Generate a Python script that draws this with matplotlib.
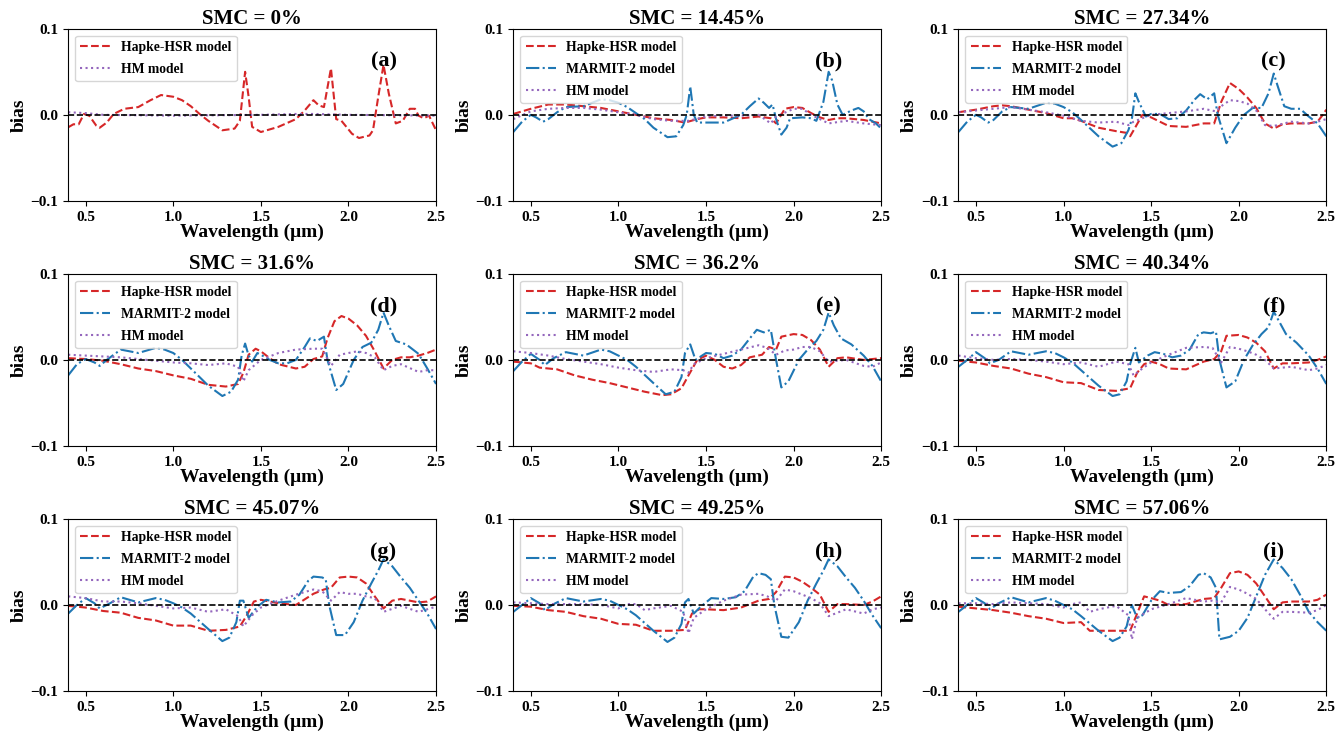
import matplotlib
matplotlib.use("Agg")
import matplotlib.pyplot as plt

plt.rcParams['font.family'] = ['Liberation Serif', 'DejaVu Serif']
plt.rcParams['font.weight'] = 'bold'
plt.rcParams['axes.labelweight'] = 'bold'
plt.rcParams['axes.titleweight'] = 'bold'

# panel titles and tags
titles = ['SMC = 0%', 'SMC = 14.45%', 'SMC = 27.34%',
          'SMC = 31.6%', 'SMC = 36.2%', 'SMC = 40.34%',
          'SMC = 45.07%', 'SMC = 49.25%', 'SMC = 57.06%']
tags = ['(a)', '(b)', '(c)', '(d)', '(e)', '(f)', '(g)', '(h)', '(i)']

# bias curves, (wavelength um, bias)
hsr_a = [(0.4, -0.0145), (0.43, -0.011), (0.46, -0.011), (0.49, 0.001), (0.52, -0.001), (0.56, -0.0125),
         (0.58, -0.015), (0.62, -0.009), (0.66, 0.001), (0.72, 0.007), (0.8, 0.009), (0.87, 0.017),
         (0.93, 0.023), (1.0, 0.021), (1.05, 0.017), (1.1, 0.010), (1.15, 0.001), (1.2, -0.007),
         (1.28, -0.018), (1.35, -0.016), (1.38, -0.007), (1.41, 0.050), (1.43, 0.021), (1.45, -0.014),
         (1.5, -0.020), (1.6, -0.014), (1.7, -0.005), (1.75, 0.005), (1.8, 0.017), (1.83, 0.011),
         (1.86, 0.009), (1.9, 0.054), (1.93, -0.005), (1.96, -0.007), (2.02, -0.022), (2.06, -0.027),
         (2.12, -0.024), (2.14, -0.018), (2.17, 0.021), (2.2, 0.058), (2.23, 0.025), (2.27, -0.010),
         (2.31, -0.007), (2.35, 0.007), (2.38, 0.007), (2.4, -0.001), (2.43, -0.004), (2.46, -0.001),
         (2.5, -0.018)]
hm_a = [(0.4, 0.003), (0.5, 0.002), (0.6, 0.0), (1.0, -0.001), (1.5, 0.0), (1.7, 0.001), (1.8, 0.001),
        (2.0, 0.0), (2.5, -0.001)]

hsr_b = [(0.4, 0.001), (0.5, 0.007), (0.6, 0.012), (0.7, 0.012), (0.8, 0.010), (0.9, 0.008), (1.0, 0.004),
         (1.1, 0.0), (1.2, -0.004), (1.3, -0.006), (1.38, -0.009), (1.45, -0.005), (1.5, -0.003),
         (1.6, -0.003), (1.7, -0.004), (1.8, -0.002), (1.87, -0.004), (1.9, -0.010), (1.95, 0.007),
         (2.0, 0.009), (2.05, 0.008), (2.1, 0.002), (2.15, -0.003), (2.2, -0.006), (2.25, -0.004),
         (2.3, -0.004), (2.4, -0.006), (2.45, -0.008), (2.5, -0.010)]
mar_b = [(0.4, -0.020), (0.45, -0.008), (0.5, 0.0), (0.53, -0.003), (0.57, -0.008), (0.6, -0.005),
         (0.65, 0.003), (0.7, 0.009), (0.8, 0.010), (0.9, 0.018), (0.95, 0.017), (1.0, 0.014),
         (1.05, 0.009), (1.1, 0.002), (1.15, -0.005), (1.2, -0.015), (1.28, -0.026), (1.33, -0.025),
         (1.37, -0.012), (1.39, 0.0), (1.41, 0.033), (1.43, 0.0), (1.45, -0.009), (1.5, -0.009),
         (1.6, -0.009), (1.7, 0.0), (1.75, 0.010), (1.8, 0.019), (1.83, 0.014), (1.86, 0.008),
         (1.88, 0.012), (1.9, -0.005), (1.93, -0.023), (1.96, -0.015), (1.98, -0.004), (2.05, -0.003),
         (2.1, -0.004), (2.13, -0.007), (2.17, 0.015), (2.2, 0.050), (2.22, 0.040), (2.25, 0.012),
         (2.28, 0.0), (2.33, 0.005), (2.37, 0.008), (2.4, 0.004), (2.43, -0.005), (2.47, -0.010),
         (2.5, -0.016)]
hm_b = [(0.4, -0.005), (0.5, 0.004), (0.6, 0.007), (0.7, 0.008), (0.8, 0.008), (0.9, 0.006), (1.0, 0.003),
        (1.1, 0.0), (1.2, -0.005), (1.3, -0.007), (1.4, -0.007), (1.5, -0.002), (1.6, -0.001),
        (1.7, -0.001), (1.8, 0.0), (1.87, -0.010), (1.9, -0.002), (2.0, 0.007), (2.05, 0.007),
        (2.1, 0.0), (2.2, -0.010), (2.3, -0.007), (2.4, -0.010), (2.5, -0.012)]

hsr_c = [(0.4, 0.003), (0.5, 0.006), (0.6, 0.010), (0.65, 0.011), (0.7, 0.010), (0.8, 0.006), (0.9, 0.002),
         (1.0, -0.004), (1.05, -0.004), (1.1, -0.007), (1.2, -0.015), (1.3, -0.019), (1.36, -0.021),
         (1.38, -0.025), (1.4, -0.018), (1.45, 0.0), (1.5, -0.003), (1.6, -0.013), (1.7, -0.014),
         (1.8, -0.010), (1.86, -0.010), (1.9, 0.015), (1.95, 0.037), (2.0, 0.030), (2.05, 0.020),
         (2.1, 0.008), (2.15, -0.010), (2.2, -0.016), (2.25, -0.011), (2.3, -0.010), (2.4, -0.010),
         (2.45, -0.008), (2.48, 0.0), (2.5, 0.006)]
mar_c = [(0.4, -0.020), (0.45, -0.008), (0.5, 0.0), (0.53, -0.003), (0.57, -0.009), (0.6, -0.006),
         (0.65, 0.004), (0.7, 0.009), (0.8, 0.007), (0.9, 0.014), (0.95, 0.013), (1.0, 0.009),
         (1.05, 0.003), (1.1, -0.006), (1.2, -0.025), (1.28, -0.037), (1.33, -0.033), (1.37, -0.018),
         (1.39, -0.005), (1.41, 0.025), (1.43, 0.015), (1.47, -0.002), (1.5, 0.001), (1.55, 0.001),
         (1.6, -0.005), (1.65, -0.004), (1.7, 0.005), (1.75, 0.018), (1.78, 0.024), (1.82, 0.018),
         (1.86, 0.025), (1.88, 0.0), (1.93, -0.033), (1.98, -0.015), (2.03, 0.0), (2.08, 0.008),
         (2.13, 0.008), (2.17, 0.025), (2.2, 0.048), (2.22, 0.035), (2.26, 0.010), (2.3, 0.007),
         (2.35, 0.007), (2.4, -0.002), (2.45, -0.010), (2.5, -0.025)]
hm_c = [(0.4, 0.003), (0.5, 0.005), (0.6, 0.007), (0.7, 0.009), (0.8, 0.006), (0.9, 0.003), (1.0, -0.001),
        (1.1, -0.007), (1.2, -0.009), (1.3, -0.008), (1.37, -0.012), (1.4, -0.008), (1.5, 0.0),
        (1.6, 0.002), (1.7, 0.004), (1.8, 0.007), (1.87, 0.004), (1.9, 0.010), (1.95, 0.017),
        (2.0, 0.016), (2.05, 0.013), (2.1, 0.005), (2.15, -0.012), (2.2, -0.013), (2.3, -0.008),
        (2.4, -0.010), (2.45, -0.008), (2.5, -0.005)]

hsr_d = [(0.4, 0.002), (0.5, 0.001), (0.6, -0.001), (0.7, -0.005), (0.8, -0.010), (0.9, -0.013),
         (1.0, -0.018), (1.1, -0.022), (1.2, -0.029), (1.3, -0.031), (1.37, -0.028), (1.4, -0.015),
         (1.43, 0.006), (1.47, 0.013), (1.5, 0.010), (1.55, 0.002), (1.6, -0.005), (1.7, -0.010),
         (1.75, -0.008), (1.8, 0.001), (1.85, 0.004), (1.88, 0.025), (1.92, 0.045), (1.96, 0.051),
         (2.0, 0.048), (2.05, 0.040), (2.1, 0.028), (2.15, 0.010), (2.2, -0.010), (2.25, 0.0),
         (2.3, 0.003), (2.35, 0.003), (2.4, 0.005), (2.45, 0.008), (2.5, 0.012)]
mar_d = [(0.4, -0.018), (0.45, -0.005), (0.5, 0.001), (0.55, -0.003), (0.58, -0.007), (0.62, 0.0),
         (0.7, 0.012), (0.8, 0.008), (0.9, 0.014), (0.95, 0.012), (1.0, 0.008), (1.05, 0.0),
         (1.1, -0.010), (1.2, -0.030), (1.28, -0.042), (1.33, -0.037), (1.37, -0.023), (1.39, 0.005),
         (1.41, 0.019), (1.43, 0.005), (1.45, -0.002), (1.48, 0.008), (1.5, 0.006), (1.55, 0.0),
         (1.6, -0.004), (1.65, -0.004), (1.7, 0.0), (1.75, 0.015), (1.78, 0.025), (1.82, 0.022),
         (1.86, 0.027), (1.88, 0.0), (1.93, -0.035), (1.97, -0.028), (2.03, 0.0), (2.08, 0.015),
         (2.13, 0.020), (2.17, 0.035), (2.2, 0.055), (2.23, 0.040), (2.27, 0.022), (2.33, 0.018),
         (2.4, 0.007), (2.45, -0.010), (2.5, -0.028)]
hm_d = [(0.4, 0.006), (0.5, 0.005), (0.6, 0.004), (0.7, 0.003), (0.8, 0.001), (0.9, -0.001), (1.0, -0.003),
        (1.1, -0.004), (1.2, -0.006), (1.3, -0.004), (1.37, -0.008), (1.4, -0.025), (1.43, -0.012),
        (1.5, 0.0), (1.6, 0.008), (1.7, 0.012), (1.8, 0.013), (1.85, 0.013), (1.9, -0.007),
        (1.95, 0.006), (2.0, 0.008), (2.05, 0.010), (2.1, 0.008), (2.15, 0.003), (2.2, -0.012),
        (2.25, -0.007), (2.3, -0.005), (2.4, -0.014), (2.45, -0.012), (2.5, -0.012)]

hsr_e = [(0.4, -0.002), (0.5, -0.004), (0.55, -0.009), (0.65, -0.011), (0.75, -0.018), (0.85, -0.023),
         (0.95, -0.027), (1.05, -0.032), (1.15, -0.037), (1.25, -0.041), (1.3, -0.040), (1.36, -0.033),
         (1.4, -0.018), (1.45, 0.0), (1.5, 0.005), (1.55, 0.0), (1.6, -0.008), (1.65, -0.010),
         (1.7, -0.006), (1.75, 0.003), (1.82, 0.006), (1.86, 0.015), (1.9, 0.012), (1.93, 0.027),
         (2.0, 0.030), (2.05, 0.029), (2.1, 0.023), (2.15, 0.012), (2.2, -0.008), (2.25, 0.002),
         (2.3, 0.003), (2.4, 0.0), (2.45, 0.001), (2.5, 0.002)]
mar_e = [(0.4, -0.013), (0.45, -0.002), (0.5, 0.007), (0.55, 0.0), (0.58, -0.006), (0.63, 0.002),
         (0.7, 0.009), (0.8, 0.005), (0.9, 0.012), (0.95, 0.010), (1.0, 0.005), (1.05, 0.0),
         (1.1, -0.008), (1.2, -0.027), (1.27, -0.040), (1.32, -0.037), (1.36, -0.020), (1.38, 0.008),
         (1.41, 0.018), (1.44, 0.0), (1.5, 0.008), (1.55, 0.007), (1.6, 0.002), (1.65, 0.005),
         (1.7, 0.012), (1.75, 0.025), (1.79, 0.035), (1.83, 0.032), (1.87, 0.035), (1.9, 0.0),
         (1.93, -0.032), (1.97, -0.025), (2.03, 0.0), (2.08, 0.012), (2.13, 0.022), (2.17, 0.035),
         (2.2, 0.055), (2.23, 0.040), (2.27, 0.025), (2.33, 0.018), (2.4, 0.005), (2.45, -0.007),
         (2.5, -0.025)]
hm_e = [(0.4, 0.010), (0.5, 0.008), (0.6, 0.005), (0.7, 0.001), (0.8, -0.002), (0.9, -0.005), (1.0, -0.009),
        (1.1, -0.012), (1.2, -0.014), (1.3, -0.011), (1.37, -0.012), (1.4, -0.015), (1.43, -0.005),
        (1.5, 0.002), (1.6, 0.007), (1.7, 0.012), (1.8, 0.017), (1.85, 0.014), (1.9, 0.006),
        (1.95, 0.011), (2.0, 0.012), (2.05, 0.015), (2.1, 0.015), (2.15, 0.010), (2.2, -0.002),
        (2.3, 0.0), (2.4, -0.007), (2.45, -0.008), (2.5, -0.003)]

hsr_f = [(0.4, -0.001), (0.5, -0.003), (0.6, -0.007), (0.7, -0.010), (0.8, -0.016), (0.9, -0.020),
         (1.0, -0.026), (1.1, -0.027), (1.2, -0.035), (1.3, -0.036), (1.38, -0.033), (1.42, -0.015),
         (1.46, -0.005), (1.5, -0.002), (1.55, -0.005), (1.6, -0.010), (1.7, -0.011), (1.8, -0.002),
         (1.86, 0.001), (1.9, 0.010), (1.93, 0.028), (2.0, 0.029), (2.05, 0.026), (2.1, 0.020),
         (2.15, 0.010), (2.2, -0.010), (2.25, -0.004), (2.3, -0.004), (2.4, -0.003), (2.45, 0.0),
         (2.5, 0.004)]
mar_f = [(0.4, -0.008), (0.45, 0.0), (0.5, 0.009), (0.55, 0.002), (0.58, -0.004), (0.63, 0.0),
         (0.7, 0.010), (0.8, 0.006), (0.9, 0.010), (0.95, 0.008), (1.0, 0.003), (1.05, -0.003),
         (1.1, -0.012), (1.2, -0.030), (1.28, -0.042), (1.32, -0.040), (1.36, -0.025), (1.38, -0.005),
         (1.41, 0.014), (1.43, -0.003), (1.48, 0.005), (1.52, 0.009), (1.57, 0.007), (1.62, 0.003),
         (1.67, 0.005), (1.72, 0.012), (1.77, 0.030), (1.8, 0.032), (1.84, 0.031), (1.87, 0.033),
         (1.89, 0.0), (1.93, -0.032), (1.98, -0.025), (2.03, 0.0), (2.08, 0.017), (2.13, 0.030),
         (2.17, 0.038), (2.2, 0.056), (2.23, 0.045), (2.27, 0.030), (2.33, 0.020), (2.4, 0.005),
         (2.45, -0.010), (2.5, -0.028)]
hm_f = [(0.4, 0.005), (0.5, 0.002), (0.6, 0.0), (0.7, 0.001), (0.8, 0.0), (0.9, -0.002), (1.0, -0.005),
        (1.1, -0.003), (1.2, -0.008), (1.3, -0.002), (1.37, -0.005), (1.4, -0.018), (1.45, -0.010),
        (1.5, -0.003), (1.6, 0.006), (1.7, 0.014), (1.8, 0.015), (1.85, 0.014), (1.9, -0.003),
        (1.95, 0.015), (2.0, 0.013), (2.05, 0.010), (2.1, 0.006), (2.15, 0.0), (2.2, -0.010),
        (2.3, -0.008), (2.4, -0.012), (2.45, -0.010), (2.5, -0.006)]

hsr_g = [(0.4, -0.001), (0.5, -0.003), (0.6, -0.007), (0.7, -0.009), (0.8, -0.015), (0.9, -0.018),
         (1.0, -0.024), (1.1, -0.024), (1.2, -0.030), (1.3, -0.029), (1.38, -0.025), (1.42, -0.012),
         (1.46, 0.004), (1.5, 0.006), (1.55, 0.004), (1.6, 0.002), (1.7, 0.0), (1.8, 0.013),
         (1.86, 0.018), (1.9, 0.020), (1.95, 0.032), (2.0, 0.033), (2.05, 0.032), (2.1, 0.025),
         (2.15, 0.010), (2.2, -0.004), (2.25, 0.005), (2.3, 0.007), (2.4, 0.003), (2.45, 0.004),
         (2.5, 0.010)]
mar_g = [(0.4, -0.010), (0.45, 0.0), (0.5, 0.008), (0.55, 0.002), (0.58, -0.004), (0.63, 0.001),
         (0.7, 0.009), (0.8, 0.003), (0.9, 0.008), (0.95, 0.006), (1.0, 0.002), (1.05, -0.003),
         (1.1, -0.010), (1.2, -0.028), (1.28, -0.042), (1.32, -0.038), (1.36, -0.020), (1.38, 0.005),
         (1.4, 0.005), (1.43, -0.015), (1.48, -0.002), (1.53, 0.006), (1.6, 0.003), (1.67, 0.004),
         (1.72, 0.012), (1.77, 0.028), (1.8, 0.033), (1.85, 0.032), (1.87, 0.030), (1.89, 0.0),
         (1.93, -0.035), (1.98, -0.035), (2.03, -0.020), (2.08, 0.005), (2.13, 0.025), (2.17, 0.040),
         (2.2, 0.053), (2.25, 0.045), (2.3, 0.032), (2.35, 0.020), (2.4, 0.005), (2.45, -0.010),
         (2.5, -0.028)]
hm_g = [(0.4, 0.010), (0.5, 0.008), (0.6, 0.004), (0.7, 0.004), (0.8, 0.002), (0.9, -0.001), (1.0, -0.004),
        (1.1, -0.003), (1.2, -0.008), (1.3, -0.005), (1.37, -0.013), (1.4, -0.025), (1.45, -0.012),
        (1.5, -0.003), (1.6, 0.005), (1.7, 0.012), (1.8, 0.018), (1.85, 0.016), (1.9, 0.005),
        (1.95, 0.015), (2.0, 0.013), (2.05, 0.013), (2.1, 0.010), (2.15, 0.008), (2.2, -0.008),
        (2.3, -0.001), (2.4, -0.008), (2.45, -0.005), (2.5, -0.002)]

hsr_h = [(0.4, -0.001), (0.5, -0.002), (0.6, -0.006), (0.7, -0.008), (0.8, -0.013), (0.9, -0.016),
         (1.0, -0.022), (1.1, -0.023), (1.2, -0.030), (1.3, -0.030), (1.38, -0.029), (1.42, -0.010),
         (1.46, -0.005), (1.5, -0.005), (1.6, -0.006), (1.7, -0.003), (1.8, 0.005), (1.86, 0.007),
         (1.9, 0.015), (1.95, 0.033), (2.0, 0.032), (2.05, 0.027), (2.1, 0.020), (2.15, 0.012),
         (2.2, -0.008), (2.25, 0.001), (2.3, 0.001), (2.4, 0.0), (2.45, 0.004), (2.5, 0.010)]
mar_h = [(0.4, -0.008), (0.45, 0.0), (0.5, 0.008), (0.55, 0.002), (0.58, -0.006), (0.63, 0.001),
         (0.7, 0.008), (0.8, 0.004), (0.9, 0.007), (0.95, 0.005), (1.0, 0.0), (1.05, -0.005),
         (1.1, -0.012), (1.2, -0.030), (1.28, -0.043), (1.32, -0.038), (1.36, -0.022), (1.38, 0.003),
         (1.4, 0.007), (1.43, -0.010), (1.47, -0.002), (1.53, 0.008), (1.6, 0.007), (1.67, 0.009),
         (1.72, 0.016), (1.77, 0.033), (1.8, 0.037), (1.84, 0.035), (1.87, 0.030), (1.89, 0.0),
         (1.93, -0.037), (1.97, -0.038), (2.03, -0.020), (2.08, 0.005), (2.13, 0.025), (2.17, 0.040),
         (2.2, 0.053), (2.25, 0.045), (2.3, 0.032), (2.35, 0.020), (2.4, 0.005), (2.45, -0.012),
         (2.5, -0.027)]
hm_h = [(0.4, 0.003), (0.5, 0.002), (0.6, 0.001), (0.7, 0.001), (0.8, 0.001), (0.9, 0.0), (1.0, -0.004),
        (1.05, 0.001), (1.1, 0.001), (1.15, -0.006), (1.2, -0.004), (1.3, -0.001), (1.37, -0.008),
        (1.4, -0.033), (1.43, -0.015), (1.5, -0.005), (1.6, 0.005), (1.7, 0.012), (1.8, 0.013),
        (1.85, 0.010), (1.9, 0.005), (1.95, 0.018), (2.0, 0.016), (2.05, 0.012), (2.1, 0.008),
        (2.15, 0.002), (2.2, -0.013), (2.3, -0.005), (2.4, -0.010), (2.45, -0.005), (2.5, -0.003)]

hsr_i = [(0.4, -0.002), (0.5, -0.004), (0.6, -0.006), (0.7, -0.009), (0.8, -0.013), (0.9, -0.016),
         (1.0, -0.021), (1.1, -0.020), (1.15, -0.030), (1.3, -0.030), (1.38, -0.030), (1.42, -0.010),
         (1.46, 0.010), (1.5, 0.008), (1.55, 0.005), (1.6, 0.0), (1.7, 0.001), (1.8, 0.007),
         (1.86, 0.008), (1.9, 0.020), (1.95, 0.037), (2.0, 0.039), (2.05, 0.035), (2.1, 0.025),
         (2.15, 0.010), (2.2, -0.005), (2.25, 0.003), (2.3, 0.004), (2.4, 0.004), (2.45, 0.006),
         (2.5, 0.012)]
mar_i = [(0.4, -0.008), (0.45, 0.0), (0.5, 0.008), (0.55, 0.002), (0.58, -0.005), (0.63, 0.002),
         (0.7, 0.009), (0.8, 0.003), (0.9, 0.008), (0.95, 0.005), (1.0, 0.0), (1.05, -0.005),
         (1.1, -0.013), (1.2, -0.030), (1.28, -0.042), (1.32, -0.038), (1.36, -0.025), (1.39, 0.0),
         (1.42, -0.015), (1.45, -0.012), (1.5, 0.005), (1.55, 0.016), (1.6, 0.014), (1.67, 0.015),
         (1.72, 0.022), (1.77, 0.035), (1.8, 0.037), (1.84, 0.032), (1.87, 0.020), (1.89, -0.040),
         (1.95, -0.037), (2.0, -0.030), (2.05, -0.015), (2.1, 0.010), (2.15, 0.035), (2.2, 0.053),
         (2.25, 0.043), (2.3, 0.030), (2.35, 0.012), (2.4, -0.008), (2.45, -0.020), (2.5, -0.030)]
hm_i = [(0.4, 0.002), (0.5, 0.002), (0.6, 0.001), (0.7, 0.003), (0.8, 0.002), (0.9, 0.001), (1.0, -0.003),
        (1.05, 0.001), (1.1, 0.003), (1.15, -0.008), (1.2, -0.005), (1.3, -0.001), (1.37, -0.012),
        (1.39, -0.040), (1.42, -0.015), (1.5, -0.005), (1.6, 0.001), (1.7, 0.008), (1.8, 0.004),
        (1.85, 0.005), (1.9, 0.003), (1.95, 0.021), (2.0, 0.018), (2.05, 0.013), (2.1, 0.007),
        (2.15, -0.005), (2.2, -0.016), (2.25, -0.008), (2.3, -0.008), (2.4, -0.009), (2.45, -0.006),
        (2.5, 0.0)]

hsr_all = [hsr_a, hsr_b, hsr_c, hsr_d, hsr_e, hsr_f, hsr_g, hsr_h, hsr_i]
mar_all = [None, mar_b, mar_c, mar_d, mar_e, mar_f, mar_g, mar_h, mar_i]
hm_all = [hm_a, hm_b, hm_c, hm_d, hm_e, hm_f, hm_g, hm_h, hm_i]

fig, axes = plt.subplots(3, 3, figsize=(13.37, 7.39), dpi=100)
fig.subplots_adjust(left=0.051, right=0.992, top=0.961, bottom=0.065, wspace=0.21, hspace=0.425)

for k, ax in enumerate(axes.flat):
    wl, b = zip(*hsr_all[k])
    ax.plot(wl, b, color='#d62728', ls='--', lw=1.5, label='Hapke-HSR model')
    if mar_all[k] is not None:
        wl, b = zip(*mar_all[k])
        ax.plot(wl, b, color='#1f77b4', ls='-.', lw=1.5, label='MARMIT-2 model')
    wl, b = zip(*hm_all[k])
    ax.plot(wl, b, color='#9467bd', ls=':', lw=1.5, label='HM model')
    ax.axhline(0, color='black', ls='--', lw=1.2)

    ax.set_xlim(0.4, 2.5)
    ax.set_ylim(-0.1, 0.1)
    ax.set_yticks([-0.1, 0.0, 0.1])
    ax.set_xticks([0.5, 1.0, 1.5, 2.0, 2.5])
    ax.tick_params(labelsize=11)
    for lab in ax.get_xticklabels() + ax.get_yticklabels():
        lab.set_fontweight('bold')
    ax.set_title(titles[k], fontsize=15, fontweight='bold', pad=3)
    ax.set_xlabel('Wavelength (μm)', fontsize=14, fontweight='bold', labelpad=0)
    ax.set_ylabel('bias', fontsize=14, fontweight='bold', labelpad=2)
    ax.text(2.2, 0.062, tags[k], fontsize=16, fontweight='bold', ha='center', va='center')
    ax.legend(loc='upper left', prop={'weight': 'bold', 'size': 9.8}, borderaxespad=0.5,
              handlelength=2.2, labelspacing=0.65)

fig.savefig('out.png', dpi=100)
